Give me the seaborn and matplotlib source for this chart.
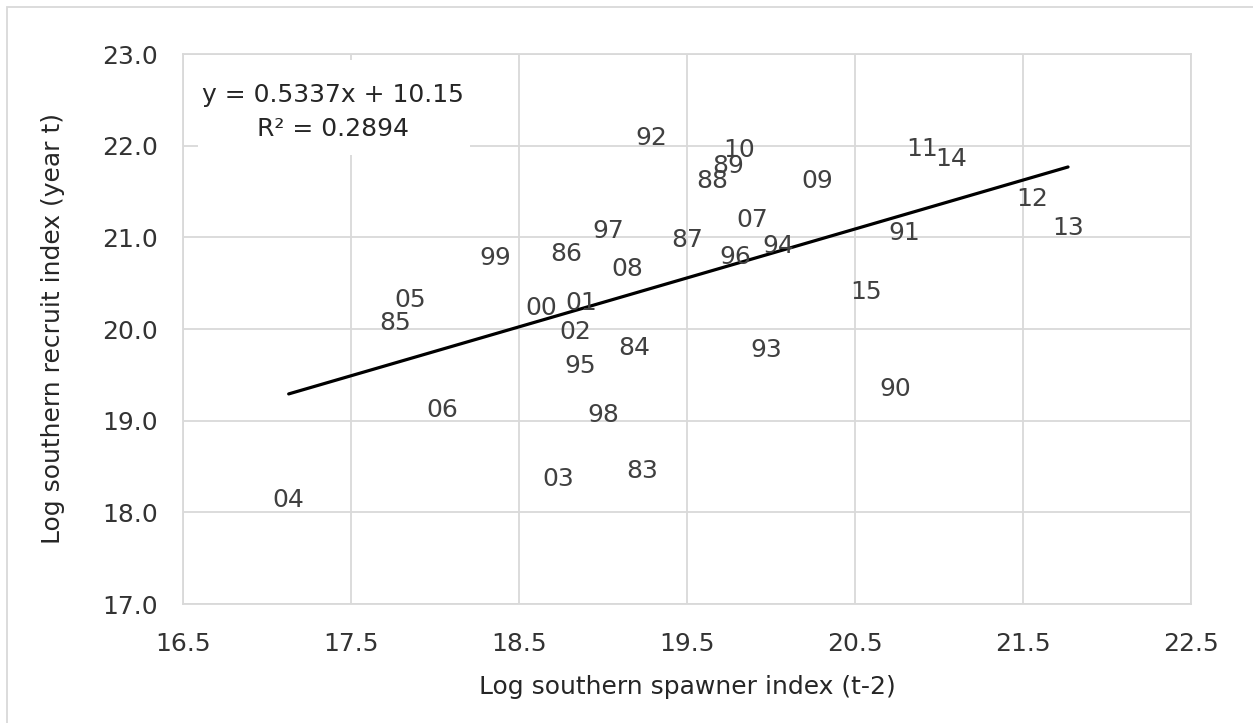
import numpy as np
import pandas as pd
import seaborn as sns
import matplotlib.pyplot as plt
from matplotlib.patches import Rectangle

# year labels with spawner (t-2) and recruit (t) log indices
years = ["83", "84", "85", "86", "87", "88", "89", "90", "91", "92", "93",
         "94", "95", "96", "97", "98", "99", "00", "01", "02", "03", "04",
         "05", "06", "07", "08", "09", "10", "11", "12", "13", "14", "15"]
spawner = [19.232, 19.186, 17.762, 18.784, 19.500, 19.649, 19.744, 20.740,
           20.792, 19.286, 19.972, 20.042, 18.867, 19.786, 19.032, 19.002,
           18.357, 18.633, 18.873, 18.835, 18.736, 17.129, 17.851, 18.042,
           19.887, 19.146, 20.274, 19.813, 20.902, 21.557, 21.768, 21.074,
           20.564]
recruit = [18.477, 19.821, 20.096, 20.844, 21.004, 21.644, 21.804, 19.371,
           21.077, 22.117, 19.799, 20.939, 19.623, 20.814, 21.094, 19.091,
           20.808, 20.263, 20.309, 19.993, 18.395, 18.164, 20.347, 19.145,
           21.222, 20.680, 21.644, 21.980, 21.989, 21.444, 21.135, 21.884,
           20.430]

# trendline from the chart
slope = 0.5337
intercept = 10.15
r2 = 0.2894

x_ticks = [16.5, 17.5, 18.5, 19.5, 20.5, 21.5, 22.5]
y_ticks = [17.0, 18.0, 19.0, 20.0, 21.0, 22.0, 23.0]

df = pd.DataFrame({"year": years, "spawner": spawner, "recruit": recruit})

sns.set_style("white")
plt.rcParams['font.family'] = ['DejaVu Sans']

fig = plt.figure(figsize=(12.53, 7.23), dpi=100)
ax = fig.add_axes([183 / 1253, 119 / 723, 1008 / 1253, 550 / 723])

# trendline over the data range
xs = np.array([df.spawner.min(), df.spawner.max()])
sns.lineplot(x=xs, y=slope * xs + intercept, color="black", linewidth=2.3,
             ax=ax, zorder=3)

# year labels are the markers
for _, row in df.iterrows():
    ax.annotate(row.year, (row.spawner, row.recruit), xytext=(0, -2),
                textcoords="offset points", ha="center", va="center",
                fontsize=18, color="#404040", zorder=4)

ax.set_xlim(16.5, 22.5)
ax.set_ylim(17.0, 23.0)
ax.set_xticks(x_ticks)
ax.set_yticks(y_ticks)
ax.set_xticklabels([f"{v:.1f}" for v in x_ticks])
ax.set_yticklabels([f"{v:.1f}" for v in y_ticks])
ax.tick_params(axis="both", length=0, labelsize=18, labelcolor="#333333")
ax.tick_params(axis="x", pad=20)
ax.tick_params(axis="y", pad=18)
ax.grid(True, color="#d9d9d9", linewidth=1.3)
ax.set_axisbelow(True)
for s in ax.spines.values():
    s.set_color("#d9d9d9")
    s.set_linewidth(1.3)

ax.set_xlabel("Log southern spawner index (t-2)", fontsize=18,
              color="#262626", labelpad=14)
ax.set_ylabel("Log southern recruit index (year t)", fontsize=18,
              color="#262626", labelpad=27)

# equation label with white background
ax.add_patch(Rectangle((0.015, 0.816), 0.27, 0.173, transform=ax.transAxes,
                       facecolor="white", edgecolor="none", zorder=1))
ax.text(0.149, 0.895, f"y = {slope}x + {intercept}\nR² = {r2}",
        transform=ax.transAxes, ha="center", va="center",
        multialignment="center", linespacing=1.5, fontsize=18,
        color="#262626", zorder=4)

# outer chart border
fig.add_artist(Rectangle((7 / 1253, -0.1), 1.2, 716 / 723 + 0.1,
                         transform=fig.transFigure, fill=False,
                         edgecolor="#d9d9d9", linewidth=1.3))

fig.savefig("out.png", dpi=100)
